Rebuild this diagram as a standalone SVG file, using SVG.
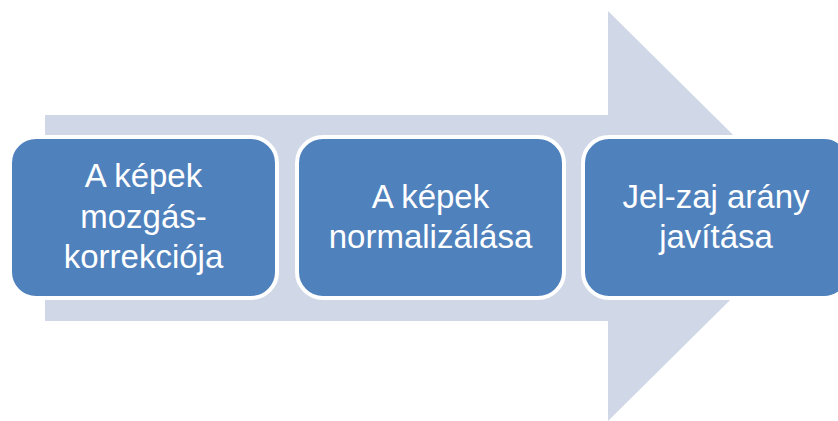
<svg xmlns="http://www.w3.org/2000/svg" width="838" height="421" viewBox="0 0 838 421">
<style>
.box{fill:#4F81BD;stroke:#FFFFFF;stroke-width:4}
.lbl{font-family:"Liberation Sans",Arial,sans-serif;font-size:33px;fill:#FFFFFF;text-anchor:middle}
</style>
<rect width="838" height="421" fill="#FFFFFF"/>
<g id="connectors">
<polygon points="45,115 608,115 608,11 815,216 608,421 608,321 45,321" fill="#D0D8E8"/>
</g>
<g id="node1">
<rect class="box" x="10" y="137" width="267" height="161" rx="26"/>
<text class="lbl" x="143.5" y="187">A képek</text>
<text class="lbl" x="143.5" y="228">mozgás-</text>
<text class="lbl" x="143.5" y="268">korrekciója</text>
</g>
<g id="node2">
<rect class="box" x="297" y="137" width="267" height="161" rx="26"/>
<text class="lbl" x="430.5" y="208">A képek</text>
<text class="lbl" x="430.5" y="248">normalizálása</text>
</g>
<g id="node3">
<rect class="box" x="583" y="137" width="267" height="161" rx="26"/>
<text class="lbl" x="716" y="208">Jel-zaj arány</text>
<text class="lbl" x="716" y="248">javítása</text>
</g>
</svg>
